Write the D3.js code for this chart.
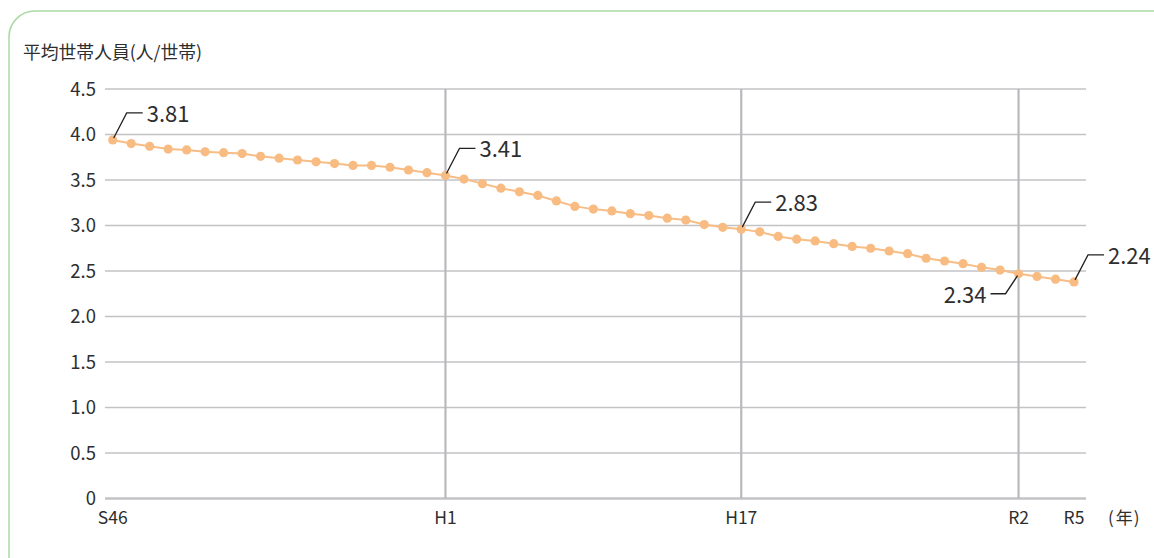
<!DOCTYPE html>
<html>
<head>
<meta charset="utf-8">
<script src="https://cdn.jsdelivr.net/npm/d3@7"></script>
<style>
  body { margin: 0; background: #fff; }
  text { font-family: "Noto Sans CJK JP", "Noto Sans", sans-serif; fill: #2e2e2e; }
</style>
</head>
<body>
<script>
// years S46 (1971) .. R5 (2023)
var years = d3.range(1971, 2024);
var values = [
  3.94, 3.90, 3.87, 3.84, 3.83, 3.81, 3.80, 3.79, 3.76, 3.74,
  3.72, 3.70, 3.68, 3.66, 3.66, 3.64, 3.61, 3.58, 3.55, 3.51,
  3.46, 3.41, 3.37, 3.33, 3.27, 3.21, 3.18, 3.16, 3.13, 3.11,
  3.08, 3.06, 3.01, 2.98, 2.96, 2.93, 2.88, 2.85, 2.83, 2.80,
  2.77, 2.75, 2.72, 2.69, 2.64, 2.61, 2.58, 2.54, 2.51, 2.47,
  2.44, 2.41, 2.38
];
var yTicks = [0, 0.5, 1.0, 1.5, 2.0, 2.5, 3.0, 3.5, 4.0, 4.5];
var xTickYears = [1971, 1989, 2005, 2020, 2023];
var xTickLabels = ["S46", "H1", "H17", "R2", "R5"];
var dividerYears = [1989, 2005, 2020];
// callouts: year, text, direction (1 = up-right, -1 = down-left)
var calloutYears = [1971, 1989, 2005, 2020, 2023];
var calloutTexts = ["3.81", "3.41", "2.83", "2.34", "2.24"];
var calloutDirs = [1, 1, 1, -1, 1];

var svg = d3.select("body")
  .append("svg")
  .attr("width", 1154)
  .attr("height", 558);

// frame
svg.append("rect")
  .attr("x", 9).attr("y", 11)
  .attr("width", 1170).attr("height", 620)
  .attr("rx", 26)
  .attr("fill", "none")
  .attr("stroke", "#a9d9a3")
  .attr("stroke-width", 1.5);

var x = d3.scaleLinear().domain([1971, 2023]).range([112.7, 1074]);
var y = d3.scaleLinear().domain([0, 4.5]).range([498.5, 89]);

// horizontal grid
svg.append("g").selectAll("line")
  .data(yTicks)
  .enter()
  .append("line")
  .attr("x1", 105).attr("x2", 1086)
  .attr("y1", function(d) { return y(d); })
  .attr("y2", function(d) { return y(d); })
  .attr("stroke", "#c3c3c6")
  .attr("stroke-width", function(d) { return d === 0 ? 2.5 : 1.5; });

// vertical dividers
svg.append("g").selectAll("line")
  .data(dividerYears)
  .enter()
  .append("line")
  .attr("x1", function(d) { return x(d); })
  .attr("x2", function(d) { return x(d); })
  .attr("y1", y(4.5)).attr("y2", y(0))
  .attr("stroke", "#b9b9bd")
  .attr("stroke-width", 2.2);

// y labels
svg.append("g").selectAll("text")
  .data(yTicks)
  .enter()
  .append("text")
  .attr("x", 96)
  .attr("y", function(d) { return y(d) + 6.5; })
  .attr("text-anchor", "end")
  .attr("font-size", "18.5px")
  .text(function(d) { return d === 0 ? "0" : d.toFixed(1); });

// x labels
svg.append("g").selectAll("text")
  .data(xTickYears)
  .enter()
  .append("text")
  .attr("x", function(d) { return x(d); })
  .attr("y", 524)
  .attr("text-anchor", "middle")
  .attr("font-size", "17.5px")
  .text(function(d, i) { return xTickLabels[i]; });

// unit label, half-width parens spaced out
var unit = svg.append("text")
  .attr("x", 1108).attr("y", 524)
  .attr("font-size", "17px");
unit.append("tspan").text("(");
unit.append("tspan").attr("dx", 2).text("年");
unit.append("tspan").attr("dx", 1).text(")");

// title
svg.append("text")
  .attr("x", 23).attr("y", 59)
  .attr("font-size", "17.8px")
  .text("平均世帯人員(人/世帯)");

// line
var line = d3.line()
  .x(function(d, i) { return x(years[i]); })
  .y(function(d) { return y(d); });

svg.append("path")
  .datum(values)
  .attr("d", line)
  .attr("fill", "none")
  .attr("stroke", "#f8bd85")
  .attr("stroke-width", 2);

svg.append("g").selectAll("circle")
  .data(values)
  .enter()
  .append("circle")
  .attr("cx", function(d, i) { return x(years[i]); })
  .attr("cy", function(d) { return y(d); })
  .attr("r", 4.6)
  .attr("fill", "#f8bb82");

// callouts
calloutYears.forEach(function(yr, i) {
  var px = x(yr), py = y(values[years.indexOf(yr)]);
  var dir = calloutDirs[i];
  var p = d3.path();
  if (dir > 0) {
    p.moveTo(px + 1, py - 2);
    p.lineTo(px + 14, py - 27);
    p.lineTo(px + 30, py - 27);
  } else {
    p.moveTo(px - 1, py + 2);
    p.lineTo(px - 13, py + 20);
    p.lineTo(px - 28, py + 20);
  }
  svg.append("path")
    .attr("d", p.toString())
    .attr("fill", "none")
    .attr("stroke", "#222")
    .attr("stroke-width", 1.3);
  svg.append("text")
    .attr("x", dir > 0 ? px + 34 : px - 32)
    .attr("y", dir > 0 ? py - 18 : py + 29)
    .attr("text-anchor", dir > 0 ? "start" : "end")
    .attr("font-size", "22px")
    .text(calloutTexts[i]);
});
</script>
</body>
</html>
